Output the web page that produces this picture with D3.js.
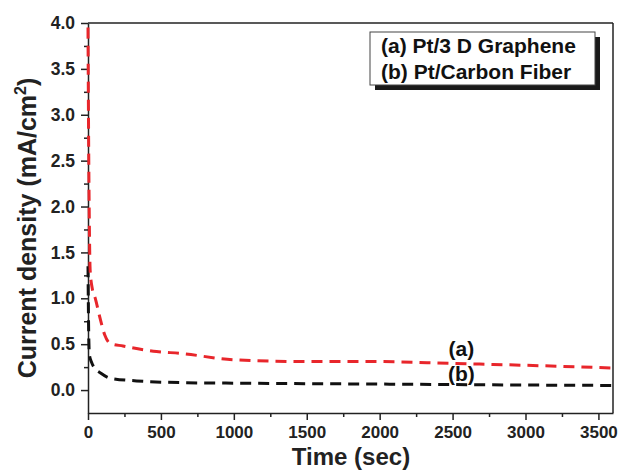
<!DOCTYPE html>
<html>
<head>
  <script src="https://d3js.org/d3.v7.min.js"></script>
  <style>
    body { margin: 0; background: #fff; }
    svg { font-family: "Liberation Sans", Arial, sans-serif; font-weight: bold; }
  </style>
</head>
<body>
  <svg width="621" height="470"></svg>
  <script>
    // Chronoamperometry data
    const timeA = [0, 4, 8, 15, 30, 50, 80, 115, 150, 240, 470, 630, 1000, 1500, 2000, 2500, 3000, 3600];
    const currentA = [3.95, 2.8, 2.0, 1.3, 1.1, 1.0, 0.8, 0.6, 0.51, 0.48, 0.42, 0.40, 0.33, 0.31, 0.31, 0.29, 0.27, 0.24];
    const timeB = [0, 5, 10, 25, 50, 82, 150, 333, 675, 1000, 1500, 2000, 2500, 3000, 3600];
    const currentB = [1.35, 0.6, 0.38, 0.30, 0.23, 0.19, 0.13, 0.10, 0.08, 0.075, 0.07, 0.065, 0.06, 0.055, 0.05];
    const legendLabels = ["(a) Pt/3 D Graphene", "(b) Pt/Carbon Fiber"];
    const xTicks = [0, 500, 1000, 1500, 2000, 2500, 3000, 3500];
    const yTicks = [0, 0.5, 1, 1.5, 2, 2.5, 3, 3.5, 4];

    const svg = d3.select("svg");
    const margin = { top: 23, right: 8, bottom: 57, left: 88 };
    const width = 621 - margin.left - margin.right;
    const height = 470 - margin.top - margin.bottom;

    const x = d3.scaleLinear().domain([0, 3600]).range([0, width]);
    const y = d3.scaleLinear().domain([-0.25, 4.0]).range([height, 0]);

    const g = svg.append("g").attr("transform", `translate(${margin.left},${margin.top})`);

    // frame (top and right)
    g.append("line").attr("x1", 0).attr("x2", width).attr("y1", 0).attr("y2", 0)
      .attr("stroke", "#222").attr("stroke-width", 1.5);
    g.append("line").attr("x1", width).attr("x2", width).attr("y1", 0).attr("y2", height)
      .attr("stroke", "#222").attr("stroke-width", 1.5);

    // minor ticks
    const xMinor = d3.range(250, 3600, 500);
    const yMinor = d3.range(0.25, 4, 0.5);
    g.append("g").attr("transform", `translate(0,${height})`)
      .call(d3.axisBottom(x).tickValues(xMinor).tickSize(4).tickFormat(""))
      .call(a => a.select(".domain").remove())
      .selectAll("line").attr("stroke-width", 1.5);
    g.append("g")
      .call(d3.axisLeft(y).tickValues(yMinor).tickSize(4).tickFormat(""))
      .call(a => a.select(".domain").remove())
      .selectAll("line").attr("stroke-width", 1.5);

    // major axes
    const xAxis = g.append("g").attr("transform", `translate(0,${height})`)
      .call(d3.axisBottom(x).tickValues(xTicks).tickSize(7).tickSizeOuter(0).tickPadding(6).tickFormat(d3.format("d")));
    xAxis.attr("font-size", null).attr("font-family", null);
    xAxis.selectAll("text").style("font-size", "17px").attr("fill", "#222");
    const yAxis = g.append("g")
      .call(d3.axisLeft(y).tickValues(yTicks).tickSize(7).tickSizeOuter(0).tickPadding(6).tickFormat(d3.format(".1f")));
    yAxis.attr("font-size", null).attr("font-family", null);
    yAxis.selectAll("text").style("font-size", "17.5px").attr("fill", "#222");
    g.selectAll(".domain, .tick line").attr("stroke", "#222").attr("stroke-width", 1.5);

    // curves
    const line = d3.line().x(d => x(d[0])).y(d => y(d[1])).curve(d3.curveMonotoneX);
    g.append("path").datum(d3.zip(timeB, currentB)).attr("d", line)
      .attr("fill", "none").attr("stroke", "#111").attr("stroke-width", 3)
      .attr("stroke-dasharray", "11,7");
    g.append("path").datum(d3.zip(timeA, currentA)).attr("d", line)
      .attr("fill", "none").attr("stroke", "#e8262b").attr("stroke-width", 3)
      .attr("stroke-dasharray", "11,7");

    // curve labels
    g.append("text").attr("x", x(2560)).attr("y", y(0.37)).attr("text-anchor", "middle")
      .style("font-size", "21px").attr("fill", "#111").text("(a)");
    g.append("text").attr("x", x(2560)).attr("y", y(0.10)).attr("text-anchor", "middle")
      .style("font-size", "21px").attr("fill", "#111").text("(b)");

    // legend box with shadow
    const lg = svg.append("g").attr("transform", "translate(370,32)");
    lg.append("rect").attr("x", 5).attr("y", 5).attr("width", 225).attr("height", 53).attr("fill", "#1a1a1a");
    lg.append("rect").attr("width", 225).attr("height", 53).attr("fill", "#fff")
      .attr("stroke", "#444").attr("stroke-width", 1);
    lg.selectAll("text.leg").data(legendLabels).join("text").attr("class", "leg")
      .attr("x", 11).attr("y", (d, i) => 21 + i * 26)
      .style("font-size", "21px").attr("fill", "#111").text(d => d);

    // axis titles
    svg.append("text").attr("x", 351).attr("y", 465).attr("text-anchor", "middle")
      .style("font-size", "24px").attr("fill", "#222").text("Time (sec)");
    const yt = svg.append("text").attr("transform", "translate(36,228) rotate(-90)")
      .attr("text-anchor", "middle").style("font-size", "25px").attr("fill", "#222");
    yt.append("tspan").text("Current density (mA/cm");
    yt.append("tspan").style("font-size", "16px").attr("dy", -10).text("2");
    yt.append("tspan").attr("dy", 10).text(")");
  </script>
</body>
</html>
